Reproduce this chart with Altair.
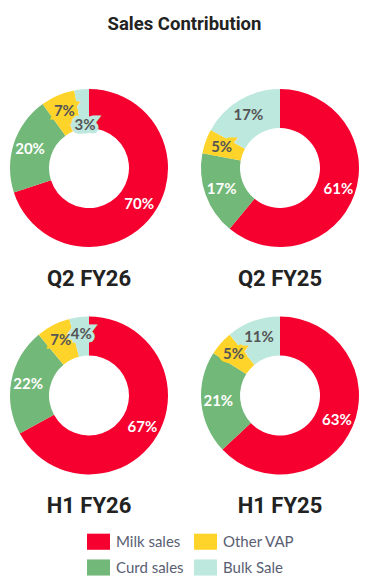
import altair as alt
import pandas as pd

panels = ["Q2 FY26", "Q2 FY25", "H1 FY26", "H1 FY25"]
categories = ["Milk sales", "Curd sales", "Other VAP", "Bulk Sale"]
milk = [70, 61, 67, 63]
curd = [20, 17, 22, 21]
other = [7, 5, 7, 5]
bulk = [3, 17, 4, 11]
legend_order = ["Milk sales", "Other VAP", "Curd sales", "Bulk Sale"]
colors = ["#F5002F", "#FFD42A", "#72B878", "#BDE8DE"]

rows = []
for i, p in enumerate(panels):
    for k, (c, vals) in enumerate(zip(categories, [milk, curd, other, bulk])):
        rows.append({"panel": p, "cat": c, "k": k, "value": vals[i], "label": f"{vals[i]}%"})
df = pd.DataFrame(rows)

cscale = alt.Scale(domain=legend_order, range=colors)
rad = alt.ExprRef(expr="datum.value < 4 ? 43 : 62")


def panel(name):
    base = alt.Chart(df).transform_filter(alt.datum.panel == name).encode(
        theta=alt.Theta("value:Q", stack=True),
        order=alt.Order("k:Q", sort="ascending"),
    )
    arcs = base.mark_arc(outerRadius=79, innerRadius=40).encode(
        color=alt.Color(
            "cat:N",
            scale=cscale,
            legend=alt.Legend(
                title=None, orient="none", legendX=79, legendY=443, columns=2,
                direction="horizontal",
                symbolType="M-1,-0.7L1,-0.7L1,0.7L-1,0.7Z", symbolSize=529,
                symbolStrokeWidth=0, labelFont="Lato", labelFontSize=15,
                labelColor="#595e72", columnPadding=10, rowPadding=6, labelOffset=6,
            ),
        )
    )
    halo = base.mark_text(
        font="Lato", fontWeight="bold", fontSize=15, strokeWidth=7,
        strokeJoin="miter", radius=rad, fillOpacity=0,
    ).encode(
        text="label:N",
        stroke=alt.Stroke("cat:N", scale=cscale, legend=None),
        opacity=alt.condition("datum.k >= 2", alt.value(1), alt.value(0)),
    )
    labels = base.mark_text(
        font="Lato", fontWeight="bold", fontSize=15, radius=rad,
    ).encode(
        text="label:N",
        color=alt.condition(
            "datum.k < 2", alt.value("white"), alt.value("#555555")
        ),
    )
    return alt.layer(arcs, halo, labels).properties(
        width=162, height=162,
        title=alt.TitleParams(
            name, orient="bottom", fontSize=22, font="Roboto", fontWeight="bold",
            color="#222222", offset=19.5,
        ),
    )


chart = alt.vconcat(
    alt.hconcat(panel(panels[0]), panel(panels[1]), spacing=29),
    alt.hconcat(panel(panels[2]), panel(panels[3]), spacing=29),
    spacing=24.5,
).properties(
    title=alt.TitleParams(
        "Sales Contribution", fontSize=18.5, font="Roboto", fontWeight="bold",
        color="#222222", anchor="middle", offset=54,
    ),
    padding={"top": 6, "left": 0, "right": 0, "bottom": 0},
).resolve_scale(color="shared", stroke="shared").configure_view(stroke=None)

chart.save("out.html", embed_options={"renderer": "svg", "actions": False})
